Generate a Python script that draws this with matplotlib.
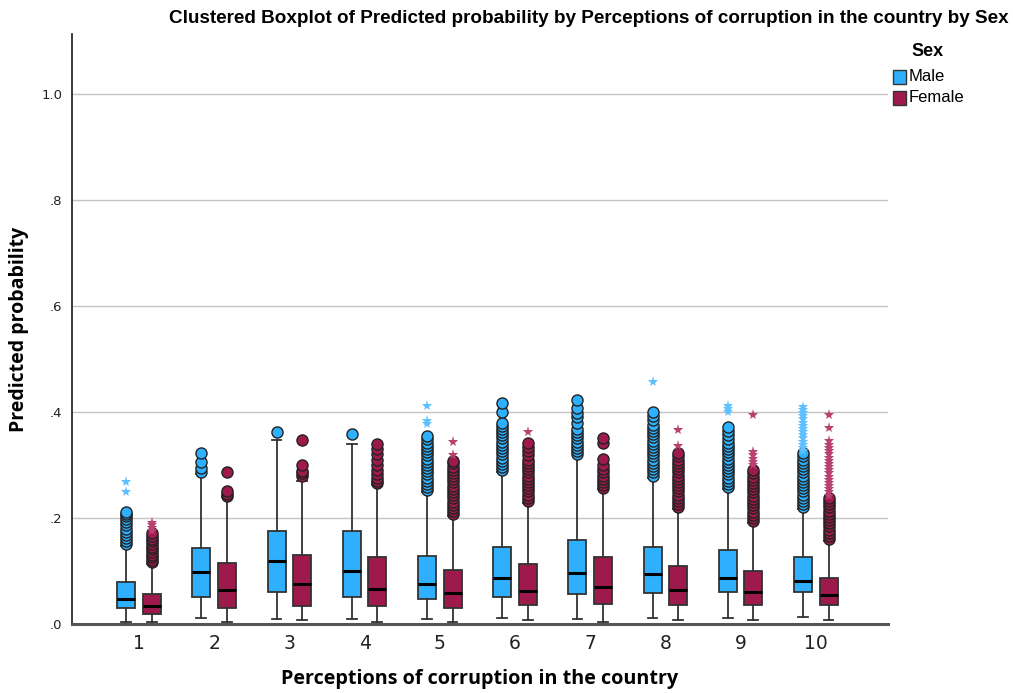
import matplotlib
matplotlib.use("Agg")
import matplotlib.pyplot as plt
from matplotlib.patches import Rectangle

categories = ["1", "2", "3", "4", "5", "6", "7", "8", "9", "10"]

# box summaries: q1, median, q3, lower whisker, upper whisker
male_q1 = [0.031, 0.050, 0.061, 0.051, 0.047, 0.051, 0.056, 0.058, 0.061, 0.061]
male_med = [0.047, 0.098, 0.119, 0.100, 0.075, 0.087, 0.096, 0.094, 0.087, 0.082]
male_q3 = [0.080, 0.144, 0.175, 0.175, 0.129, 0.146, 0.159, 0.146, 0.140, 0.126]
male_lo = [0.004, 0.012, 0.009, 0.009, 0.009, 0.012, 0.009, 0.012, 0.012, 0.014]
male_hi = [0.147, 0.282, 0.347, 0.339, 0.248, 0.286, 0.317, 0.276, 0.254, 0.217]

female_q1 = [0.018, 0.031, 0.034, 0.034, 0.031, 0.035, 0.038, 0.036, 0.036, 0.036]
female_med = [0.033, 0.065, 0.075, 0.066, 0.058, 0.063, 0.069, 0.065, 0.060, 0.055]
female_q3 = [0.056, 0.115, 0.130, 0.126, 0.102, 0.114, 0.126, 0.110, 0.100, 0.086]
female_lo = [0.004, 0.004, 0.008, 0.004, 0.004, 0.008, 0.004, 0.008, 0.008, 0.008]
female_hi = [0.113, 0.239, 0.270, 0.262, 0.204, 0.229, 0.254, 0.217, 0.190, 0.157]

# outliers (circles) and extremes (stars)
male_out = [
    [0.150, 0.156, 0.162, 0.168, 0.174, 0.180, 0.186, 0.192, 0.198, 0.203, 0.208, 0.212],
    [0.287, 0.295, 0.305, 0.323],
    [0.362],
    [0.358],
    [0.252, 0.258, 0.264, 0.270, 0.276, 0.282, 0.288, 0.294, 0.300, 0.306, 0.312,
     0.318, 0.324, 0.330, 0.336, 0.342, 0.348, 0.354],
    [0.290, 0.296, 0.302, 0.308, 0.314, 0.320, 0.326, 0.332, 0.338, 0.344, 0.350,
     0.356, 0.362, 0.368, 0.374, 0.380, 0.400, 0.417],
    [0.320, 0.326, 0.332, 0.338, 0.344, 0.350, 0.356, 0.362, 0.368, 0.380, 0.390,
     0.398, 0.408, 0.422],
    [0.280, 0.286, 0.292, 0.298, 0.304, 0.310, 0.316, 0.322, 0.328, 0.334, 0.340,
     0.346, 0.352, 0.358, 0.364, 0.370, 0.376, 0.384, 0.392, 0.400],
    [0.258, 0.264, 0.270, 0.276, 0.282, 0.288, 0.294, 0.300, 0.306, 0.312, 0.318,
     0.324, 0.330, 0.336, 0.342, 0.348, 0.356, 0.364, 0.372],
    [0.220, 0.226, 0.232, 0.238, 0.244, 0.250, 0.256, 0.262, 0.268, 0.274, 0.280,
     0.286, 0.292, 0.298, 0.304, 0.310, 0.316, 0.322],
]
male_ext = [
    [0.248, 0.268],
    [], [], [],
    [0.378, 0.382, 0.412],
    [], [],
    [0.456],
    [0.400, 0.405, 0.412],
    [0.326, 0.332, 0.338, 0.344, 0.350, 0.356, 0.362, 0.368, 0.374, 0.380, 0.386,
     0.392, 0.398, 0.404, 0.410],
]
female_out = [
    [0.116, 0.121, 0.126, 0.131, 0.136, 0.141, 0.146, 0.151, 0.156, 0.161, 0.166, 0.171],
    [0.242, 0.246, 0.250, 0.287],
    [0.279, 0.284, 0.288, 0.300, 0.347],
    [0.265, 0.270, 0.276, 0.282, 0.290, 0.300, 0.310, 0.320, 0.330, 0.340],
    [0.207, 0.213, 0.219, 0.225, 0.231, 0.237, 0.243, 0.249, 0.255, 0.261, 0.267,
     0.273, 0.279, 0.285, 0.291, 0.297, 0.303, 0.308],
    [0.232, 0.238, 0.244, 0.250, 0.256, 0.262, 0.268, 0.274, 0.280, 0.286, 0.292,
     0.298, 0.304, 0.310, 0.318, 0.326, 0.334, 0.341],
    [0.256, 0.262, 0.268, 0.274, 0.280, 0.286, 0.292, 0.300, 0.312, 0.342, 0.350],
    [0.220, 0.226, 0.232, 0.238, 0.244, 0.250, 0.256, 0.262, 0.268, 0.274, 0.280,
     0.286, 0.292, 0.298, 0.304, 0.310, 0.316, 0.322],
    [0.194, 0.200, 0.206, 0.212, 0.218, 0.224, 0.230, 0.236, 0.242, 0.248, 0.254,
     0.260, 0.266, 0.272, 0.278, 0.284, 0.290],
    [0.160, 0.166, 0.172, 0.178, 0.184, 0.190, 0.196, 0.202, 0.208, 0.214, 0.220,
     0.226, 0.232, 0.238],
]
female_ext = [
    [0.176, 0.181, 0.186, 0.191],
    [], [], [],
    [0.319, 0.344],
    [0.363],
    [],
    [0.335, 0.365],
    [0.300, 0.306, 0.312, 0.318, 0.324, 0.395],
    [0.242, 0.248, 0.254, 0.260, 0.266, 0.272, 0.278, 0.284, 0.290, 0.296, 0.302,
     0.308, 0.314, 0.320, 0.326, 0.332, 0.338, 0.346, 0.370, 0.394],
]

male_color = "#2eb0ff"
female_color = "#9e1a4c"
male_star = "#5fc0ff"
female_star = "#b8416f"

fig = plt.figure(figsize=(10.13, 6.93), dpi=100)
ax = fig.add_axes([0.0711, 0.0996, 0.8055, 0.8515])

offset = 0.17
width = 0.24


def stats_for(q1, med, q3, lo, hi):
    return [dict(q1=a, med=b, q3=c, whislo=d, whishi=e, fliers=[])
            for a, b, c, d, e in zip(q1, med, q3, lo, hi)]


pos = list(range(1, len(categories) + 1))
groups = [
    (stats_for(male_q1, male_med, male_q3, male_lo, male_hi), -offset, male_color,
     male_out, male_ext, male_star),
    (stats_for(female_q1, female_med, female_q3, female_lo, female_hi), offset, female_color,
     female_out, female_ext, female_star),
]

for stats, off, col, outs, exts, scol in groups:
    p = [x + off for x in pos]
    ax.bxp(stats, positions=p, widths=width, patch_artist=True, showfliers=False,
           boxprops=dict(facecolor=col, edgecolor="#333333", linewidth=1.3),
           medianprops=dict(color="black", linewidth=2.2),
           whiskerprops=dict(color="#333333", linewidth=1.3),
           capprops=dict(color="#333333", linewidth=1.3),
           capwidths=0.13, zorder=2)
    for x, vals in zip(p, outs):
        ax.plot([x] * len(vals), vals, linestyle="none", marker="o", markersize=8,
                markerfacecolor=col, markeredgecolor="#222222", markeredgewidth=1.0,
                zorder=3)
    for x, vals in zip(p, exts):
        ax.plot([x] * len(vals), vals, linestyle="none", marker="*", markersize=8,
                color=scol, markeredgewidth=0, zorder=3)

ax.set_xlim(0.11, 10.96)
ax.set_ylim(0, 1.113)
ax.set_xticks(pos)
ax.set_xticklabels(categories, fontsize=13.5, color="#222222")
ax.set_yticks([0, 0.2, 0.4, 0.6, 0.8, 1.0])
ax.set_yticklabels([".0", ".2", ".4", ".6", ".8", "1.0"], fontsize=9.5, color="#222222")
ax.tick_params(axis="both", length=0)
ax.tick_params(axis="x", pad=7)
ax.tick_params(axis="y", pad=7)
ax.grid(axis="y", color="#c4c4c4", linewidth=1.0, zorder=0)
ax.set_axisbelow(True)
for s in ["top", "right"]:
    ax.spines[s].set_visible(False)
ax.spines["left"].set_color("#1a1a1a")
ax.spines["left"].set_linewidth(1.2)
ax.spines["bottom"].set_color("#555555")
ax.spines["bottom"].set_linewidth(2.2)

ax.set_xlabel("Perceptions of corruption in the country", fontsize=14.2, fontweight="bold",
              family="Open Sans", labelpad=12)
ax.set_ylabel("Predicted probability", fontsize=14, fontweight="bold",
              family="Open Sans", labelpad=9)

fig.text(0.581, 0.974, "Clustered Boxplot of Predicted probability by Perceptions of corruption in the country by Sex",
         ha="center", va="center", fontsize=13.6, fontweight="bold", family="Liberation Sans")

# legend
fig.text(0.916, 0.925, "Sex", ha="center", va="center", fontsize=13, fontweight="bold",
         family="Liberation Sans")
fig.add_artist(Rectangle((0.8815, 0.8788), 0.0128, 0.0202, transform=fig.transFigure,
                         facecolor=male_color, edgecolor="#333333", linewidth=1))
fig.add_artist(Rectangle((0.8815, 0.8485), 0.0128, 0.0202, transform=fig.transFigure,
                         facecolor=female_color, edgecolor="#333333", linewidth=1))
fig.text(0.897, 0.889, "Male", ha="left", va="center", fontsize=12, family="Liberation Sans")
fig.text(0.897, 0.8586, "Female", ha="left", va="center", fontsize=12, family="Liberation Sans")

fig.savefig("out.png", dpi=100)
